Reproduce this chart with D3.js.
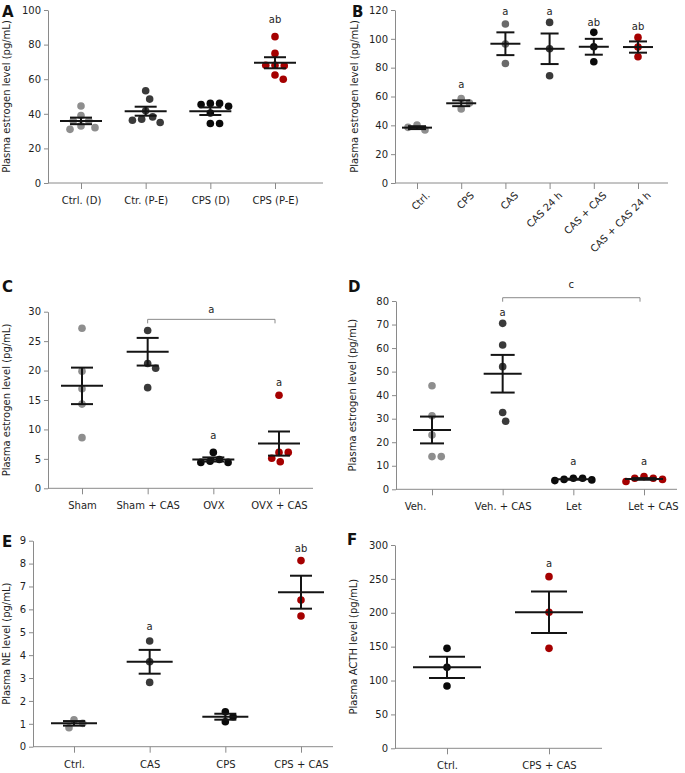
<!DOCTYPE html>
<html><head><meta charset="utf-8">
<script src="https://cdn.jsdelivr.net/npm/d3@7"></script>
<style>
body{margin:0;background:#fff;}
text{font-family:"DejaVu Sans",Verdana,sans-serif;}
</style></head>
<body>
<script>
// ---------- DATA ----------
const ylabelEstrogen = "Plasma estrogen level (pg/mL)";

// Panel A
const catsA = ["Ctrl. (D)", "Ctr. (P-E)", "CPS (D)", "CPS (P-E)"];
const valuesA = [[44.5, 39, 36, 36, 33, 32, 31], [53.3, 48.5, 41.7, 38.2, 36.9, 36.3, 35], [46, 46, 45.4, 44.4, 40.5, 34.4, 34.4], [84.6, 74.9, 68.1, 67.8, 68.1, 62.4, 60]];
const meansA = [35.9, 41.5, 41.5, 69.5];
const semsA = [1.9, 2.6, 2.2, 3.2];
const sigA = ["", "", "", "ab"];
const sigYA = [null, null, null, 94.5];
const ticksA = [0, 20, 40, 60, 80, 100];

// Panel B
const catsB = ["Ctrl.", "CPS", "CAS", "CAS 24 h", "CAS + CAS", "CAS + CAS 24 h"];
const valuesB = [[40.2, 36.8, 38.6], [58.6, 51.4, 55.5], [110.3, 96.4, 82.9], [111.4, 93.1, 74.4], [104.5, 94.5, 84.1], [101, 94.3, 87.6]];
const meansB = [38.4, 55.3, 96.6, 93.1, 94.5, 94.3];
const semsB = [1.0, 2.0, 7.9, 10.6, 5.5, 3.9];
const sigB = ["", "a", "a", "a", "ab", "ab"];
const sigYB = [null, 68.3, 119.3, 119.3, 111.2, 108.4];
const ticksB = [0, 20, 40, 60, 80, 100, 120];

// Panel C
const catsC = ["Sham", "Sham + CAS", "OVX", "OVX + CAS"];
const valuesC = [[27.2, 19.9, 16.9, 14.3, 8.6], [26.8, 21.2, 20.4, 17.1], [6.1, 4.9, 4.6, 4.4, 4.4], [15.8, 6.1, 6.1, 5.1, 4.5]];
const meansC = [17.4, 23.2, 4.9, 7.6];
const semsC = [3.1, 2.35, 0.35, 2.05];
const sigC = ["", "", "a", "a"];
const sigYC = [null, null, 8.9, 17.9];
const ticksC = [0, 5, 10, 15, 20, 25, 30];
const bracketC = {from: "Sham + CAS", to: "OVX + CAS", value: 28.7, label: "a", labelValue: 30.3};

// Panel D
const catsD = ["Veh.", "Veh. + CAS", "Let", "Let + CAS"];
const valuesD = [[44, 31.2, 23.1, 13.9, 13.9], [70.5, 61.3, 52.1, 32.6, 28.9], [4.7, 4.7, 4.2, 4.0, 3.7], [5.4, 4.7, 4.7, 4.2, 3.3]];
const meansD = [25.2, 49.1, 4.3, 4.4];
const semsD = [5.7, 8.0, 0.2, 0.35];
const sigD = ["", "a", "a", "a"];
const sigYD = [null, 75, 12, 12];
const ticksD = [0, 10, 20, 30, 40, 50, 60, 70, 80];
const bracketD = {from: "Veh. + CAS", to: "Let + CAS", value: 81.4, label: "c", labelValue: 86.8};

// Panel E
const catsE = ["Ctrl.", "CAS", "CPS", "CPS + CAS"];
const valuesE = [[1.17, 1.02, 0.83], [4.62, 3.71, 2.81], [1.53, 1.31, 1.09], [8.13, 6.41, 5.71]];
const meansE = [1.02, 3.71, 1.31, 6.75];
const semsE = [0.1, 0.52, 0.13, 0.72];
const sigE = ["", "a", "", "ab"];
const sigYE = [null, 5.24, null, 8.66];
const ticksE = [0, 1, 2, 3, 4, 5, 6, 7, 8, 9];

// Panel F
const catsF = ["Ctrl.", "CPS + CAS"];
const valuesF = [[147.5, 119.5, 92], [253.3, 200.7, 147.5]];
const meansF = [119.5, 200.7];
const semsF = [15.7, 30.5];
const sigF = ["", "a"];
const sigYF = [null, 273];
const ticksF = [0, 50, 100, 150, 200, 250, 300];

// ---------- STYLE ----------
const LG = "#8e8e8e", MG = "#6a6a6a", DG = "#3a3a3a", BK = "#0a0a0a", RD = "#a50000";
const TXT = "#1e1e1e", AX = "#8a8a8a", BAR = "#141414";

const panels = [
  {letter:"A", lx:2, ly:17, cats:catsA, values:valuesA, means:meansA, sems:semsA, sig:sigA, sigY:sigYA, ticks:ticksA,
   ylabel:ylabelEstrogen, yLabelX:9.6, left:48, right:323, top:10, bottom:183, first:81, last:275,
   colors:[LG, DG, BK, RD], meanHW:21, capHW:11},
  {letter:"B", lx:352, ly:17, cats:catsB, values:valuesB, means:meansB, sems:semsB, sig:sigB, sigY:sigYB, ticks:ticksB,
   ylabel:ylabelEstrogen, yLabelX:357.6, left:395, right:668, top:10, bottom:183, first:417, last:638,
   colors:[LG, LG, MG, DG, BK, RD], meanHW:15, capHW:9, rotate:true},
  {letter:"C", lx:2, ly:292, cats:catsC, values:valuesC, means:meansC, sems:semsC, sig:sigC, sigY:sigYC, ticks:ticksC,
   ylabel:ylabelEstrogen, yLabelX:10.4, left:48, right:313, top:311.7, bottom:488.3, first:82, last:279,
   colors:[LG, DG, BK, RD], meanHW:21, capHW:11, bracket:bracketC},
  {letter:"D", lx:348, ly:292, cats:catsD, values:valuesD, means:meansD, sems:semsD, sig:sigD, sigY:sigYD, ticks:ticksD,
   ylabel:ylabelEstrogen, yLabelX:355.6, left:396, right:677, top:301, bottom:489.3, first:432, last:644,
   colors:[LG, DG, BK, RD], meanHW:19, capHW:12, bracket:bracketD, labelDx:[-17, 0, 0, 9]},
  {letter:"E", lx:2, ly:547, cats:catsE, values:valuesE, means:meansE, sems:semsE, sig:sigE, sigY:sigYE, ticks:ticksE,
   ylabel:"Plasma NE level (pg/mL)", yLabelX:9.6, left:33, right:333, top:540.7, bottom:746.7, first:74, last:301,
   colors:[LG, DG, BK, RD], meanHW:23, capHW:11},
  {letter:"F", lx:347, ly:545, cats:catsF, values:valuesF, means:meansF, sems:semsF, sig:sigF, sigY:sigYF, ticks:ticksF,
   ylabel:"Plasma ACTH level (pg/mL)", yLabelX:356.6, left:395, right:602, top:545, bottom:748.3, first:447, last:549,
   colors:[BK, RD], meanHW:34, capHW:18}
];

const R = 3.8, MIN_D = 9.2;

// deterministic beeswarm-style dodge
function dodge(ys) {
  const placed = [];
  return ys.map(py => {
    let off = 0;
    for (let k = 0; k < 400; k++) {
      const cand = k === 0 ? 0 : (k % 2 ? 1 : -1) * Math.ceil(k / 2) * 0.25;
      if (placed.every(p => Math.hypot(p[0] - cand, p[1] - py) >= MIN_D)) { off = cand; break; }
    }
    placed.push([off, py]);
    return off;
  });
}

const svg = d3.select("body").append("svg").attr("width", 685).attr("height", 773);

panels.forEach(p => {
  const g = svg.append("g");
  const y = d3.scaleLinear().domain([0, d3.max(p.ticks)]).range([p.bottom, p.top]);
  const x = d3.scalePoint().domain(p.cats).range([p.first, p.last]);

  // Y axis
  const ya = g.append("g").attr("transform", `translate(${p.left},0)`)
    .call(d3.axisLeft(y).tickValues(p.ticks).tickSize(4).tickPadding(3).tickSizeOuter(0));
  ya.select(".domain").attr("stroke", AX);
  ya.selectAll(".tick line").attr("stroke", AX);
  ya.selectAll(".tick text").attr("fill", TXT).style("font-size", "10px").style("font-family", '"DejaVu Sans", sans-serif');

  // X axis
  const xa = g.append("g").attr("transform", `translate(0,${p.bottom})`)
    .call(d3.axisBottom(x).tickSize(6).tickPadding(8).tickSizeOuter(0));
  xa.select(".domain").remove();
  xa.selectAll(".tick line").attr("stroke", AX);
  const xt = xa.selectAll(".tick text").attr("fill", TXT).style("font-size", "10px").style("font-family", '"DejaVu Sans", sans-serif');
  if (p.rotate) {
    xt.attr("x", 0).attr("y", 0).attr("dy", 0)
      .attr("transform", "translate(13,13) rotate(-45)").style("text-anchor", "end");
  }
  if (p.labelDx) xt.attr("dx", (d, i) => p.labelDx[i]);
  g.append("line").attr("x1", p.left).attr("x2", p.right).attr("y1", p.bottom).attr("y2", p.bottom)
    .attr("stroke", AX).attr("stroke-width", 1);

  // Y label
  g.append("text").attr("transform", `translate(${p.yLabelX},${(p.top + p.bottom) / 2}) rotate(-90)`)
    .attr("text-anchor", "middle").attr("fill", TXT).style("font-size", "10px").text(p.ylabel);

  // Panel letter
  g.append("text").attr("x", p.lx).attr("y", p.ly).attr("fill", "#111")
    .style("font-size", "15px").style("font-weight", "bold").text(p.letter);

  // Dots
  p.cats.forEach((c, i) => {
    const ys = p.values[i].map(v => y(v));
    const offs = dodge(ys);
    g.append("g").selectAll("circle").data(p.values[i]).join("circle")
      .attr("cx", (d, j) => x(c) + offs[j]).attr("cy", d => y(d)).attr("r", R)
      .attr("fill", p.colors[i]);
  });

  // Mean ± SEM
  p.cats.forEach((c, i) => {
    const cx = x(c), m = p.means[i], s = p.sems[i];
    const eb = g.append("g").attr("stroke", BAR).attr("stroke-width", 2).attr("fill", "none");
    eb.append("line").attr("x1", cx - p.meanHW).attr("x2", cx + p.meanHW).attr("y1", y(m)).attr("y2", y(m));
    eb.append("line").attr("x1", cx).attr("x2", cx).attr("y1", y(m + s)).attr("y2", y(m - s));
    eb.append("line").attr("x1", cx - p.capHW).attr("x2", cx + p.capHW).attr("y1", y(m + s)).attr("y2", y(m + s));
    eb.append("line").attr("x1", cx - p.capHW).attr("x2", cx + p.capHW).attr("y1", y(m - s)).attr("y2", y(m - s));
  });

  // Significance letters
  p.cats.forEach((c, i) => {
    if (!p.sig[i]) return;
    g.append("text").attr("x", x(c)).attr("y", y(p.sigY[i])).attr("dy", "0.35em")
      .attr("text-anchor", "middle").attr("fill", TXT).style("font-size", "10px").text(p.sig[i]);
  });

  // Bracket
  if (p.bracket) {
    const b = p.bracket, x1 = x(b.from), x2 = x(b.to) - 4, by = y(b.value);
    g.append("path").attr("d", `M${x1},${by + 4}V${by}H${x2}V${by + 4}`)
      .attr("fill", "none").attr("stroke", "#8a8a8a").attr("stroke-width", 1);
    g.append("text").attr("x", (x1 + x2) / 2).attr("y", y(b.labelValue)).attr("dy", "0.35em")
      .attr("text-anchor", "middle").attr("fill", TXT).style("font-size", "10px").text(b.label);
  }
});
</script>
</body></html>
